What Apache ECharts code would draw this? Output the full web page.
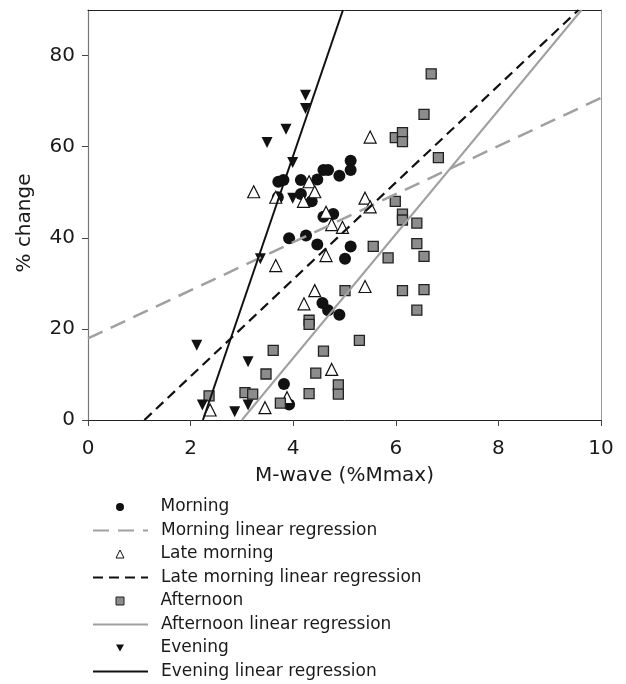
<!DOCTYPE html>
<html>
<head>
<meta charset="utf-8">
<script src="https://cdn.jsdelivr.net/npm/echarts@6/dist/echarts.min.js"></script>
<style>html,body{margin:0;padding:0;background:#fff}#c{width:626px;height:684px}</style>
</head>
<body>
<div id="c"></div>
<script>
// ---- data ----
const xTicks = [0, 2, 4, 6, 8, 10];
const yTicks = [0, 20, 40, 60, 80];

const morning = [
  [5.12,56.9],[5.12,54.9],[4.59,54.9],[4.68,54.9],[4.90,53.6],[4.47,52.8],[4.15,52.7],
  [3.71,52.3],[3.81,52.7],[4.15,49.6],[4.36,48.0],[3.70,48.9],[4.59,44.6],[4.78,45.2],
  [3.92,39.9],[4.25,40.5],[4.47,38.5],[5.12,38.1],[5.01,35.4],[4.57,25.7],[4.68,24.1],
  [4.90,23.1],[3.82,7.9],[3.92,3.4]
];
const lateMorning = [
  [5.50,62.1],[3.23,50.1],[4.31,52.3],[4.42,50.1],[3.66,48.9],[4.20,48.0],[5.40,48.7],
  [5.50,46.8],[4.64,45.6],[4.75,42.9],[4.96,42.3],[4.64,36.1],[3.66,33.9],[4.42,28.4],
  [4.21,25.5],[5.40,29.3],[4.75,11.1],[3.88,4.9],[3.45,2.7],[2.38,2.2]
];
const afternoon = [
  [6.69,76.0],[6.55,67.1],[5.99,62.0],[6.13,63.1],[6.13,61.1],[6.83,57.6],[5.99,48.0],
  [6.13,45.2],[6.13,43.9],[6.41,43.2],[6.41,38.7],[5.56,38.1],[5.85,35.6],[6.55,35.9],
  [6.13,28.4],[6.55,28.6],[6.41,24.1],[5.01,28.4],[4.31,21.9],[4.31,21.0],[5.29,17.5],
  [3.61,15.3],[4.59,15.1],[3.47,10.1],[4.44,10.3],[4.88,7.7],[4.88,5.7],[4.31,5.8],
  [3.06,6.0],[3.21,5.7],[2.36,5.3],[3.75,3.7]
];
const evening = [
  [4.24,71.3],[4.24,68.4],[3.86,63.8],[3.49,60.9],[3.99,56.5],[3.99,48.7],[3.36,35.4],
  [2.12,16.4],[3.12,12.8],[2.23,3.3],[3.12,3.3],[2.86,1.8]
];
// regression line end points
const morningReg = [[0,17.9],[10,70.7]];
const lateMorningReg = [[1.1,0],[9.56,90]];
const afternoonReg = [[3.0,0],[9.62,90]];
const eveningReg = [[2.24,0],[4.97,90]];

const pointNames = ['Morning','Late morning','Afternoon','Evening'];
const lineNames = ['Morning linear regression','Late morning linear regression',
  'Afternoon linear regression','Evening linear regression'];
const pointIcons = ['circle','triangle','rect','path://M0,0 L10,0 L5,9 Z'];

const FONT = 'DejaVu Sans';
const chart = echarts.init(document.getElementById('c'), null, {renderer:'canvas'});

function scatter(name, data, symbol, size, style, rot) {
  return {name, type:'scatter', data, symbol, symbolSize:size, symbolRotate:rot||0,
    itemStyle:Object.assign({opacity:1}, style), z:2, silent:true, animation:false};
}
function line(name, data, color, width, type) {
  return {name, type:'line', data, symbol:'none', z:3, silent:true, animation:false,
    lineStyle:{color, width, type}, itemStyle:{color}};
}
const legendText = (pad) => ({fontFamily:FONT, fontSize:17, color:'#1a1a1a', lineHeight:17, padding:[0,0,0,pad]});

chart.setOption({
  backgroundColor:'#fff',
  animation:false,
  grid:{left:88, right:25, top:10, bottom:264, containLabel:false},
  xAxis:[{
    type:'value', min:0, max:10, interval:2, position:'bottom',
    name:'M-wave (%Mmax)', nameLocation:'middle', nameGap:46,
    nameTextStyle:{fontFamily:FONT, fontSize:20, color:'#1a1a1a'},
    axisLine:{show:true, lineStyle:{color:'#222', width:1}},
    axisTick:{show:true, inside:false, length:6, lineStyle:{color:'#444'}, customValues:xTicks},
    axisLabel:{fontFamily:FONT, fontSize:20, color:'#1a1a1a', margin:19, customValues:xTicks},
    splitLine:{show:false}
  },{
    type:'value', min:0, max:10, position:'top',
    axisLine:{show:true, onZero:false, lineStyle:{color:'#222', width:1}},
    axisTick:{show:false}, axisLabel:{show:false}, splitLine:{show:false}
  }],
  yAxis:[{
    type:'value', min:0, max:90, interval:10, position:'left',
    name:'% change', nameLocation:'middle', nameGap:53, nameRotate:90,
    nameTextStyle:{fontFamily:FONT, fontSize:20, color:'#1a1a1a', padding:[0,16,0,0]},
    axisLine:{show:true, lineStyle:{color:'#777', width:1.2}},
    axisTick:{show:true, inside:false, length:6, lineStyle:{color:'#444'}, customValues:yTicks},
    axisLabel:{fontFamily:FONT, fontSize:20, color:'#1a1a1a', margin:13, customValues:yTicks},
    splitLine:{show:false}
  },{
    type:'value', min:0, max:90, position:'right',
    axisLine:{show:true, onZero:false, lineStyle:{color:'#999', width:1}},
    axisTick:{show:false}, axisLabel:{show:false}, splitLine:{show:false}
  }],
  legend:[{
    data:pointNames.map((n,i)=>({name:n, icon:pointIcons[i], itemStyle:{borderWidth:1}})),
    orient:'vertical', left:115.5, top:498.5, padding:0,
    itemWidth:8, itemHeight:8, itemGap:30, symbolKeepAspect:true,
    textStyle:legendText(31.5), selectedMode:false
  },{
    data:lineNames.map(n=>({name:n, itemStyle:{opacity:0}})),
    orient:'vertical', left:92, top:522, padding:0,
    itemWidth:55, itemHeight:8, itemGap:30,
    textStyle:legendText(8), selectedMode:false
  }],
  series:[
    scatter('Morning', morning, 'circle', 12, {color:'#111'}),
    scatter('Late morning', lateMorning, 'triangle', 12, {color:'#fff', borderColor:'#111', borderWidth:1.2}),
    scatter('Afternoon', afternoon, 'rect', 10, {color:'#8c8c8c', borderColor:'#222', borderWidth:1.3}),
    scatter('Evening', evening, 'triangle', 11, {color:'#111'}, 180),
    line('Morning linear regression', morningReg, '#a0a0a0', 2.5, [16,9]),
    line('Late morning linear regression', lateMorningReg, '#111', 2.2, [10,6]),
    line('Afternoon linear regression', afternoonReg, '#a0a0a0', 2, 'solid'),
    line('Evening linear regression', eveningReg, '#111', 2, 'solid')
  ]
});
</script>
</body>
</html>
